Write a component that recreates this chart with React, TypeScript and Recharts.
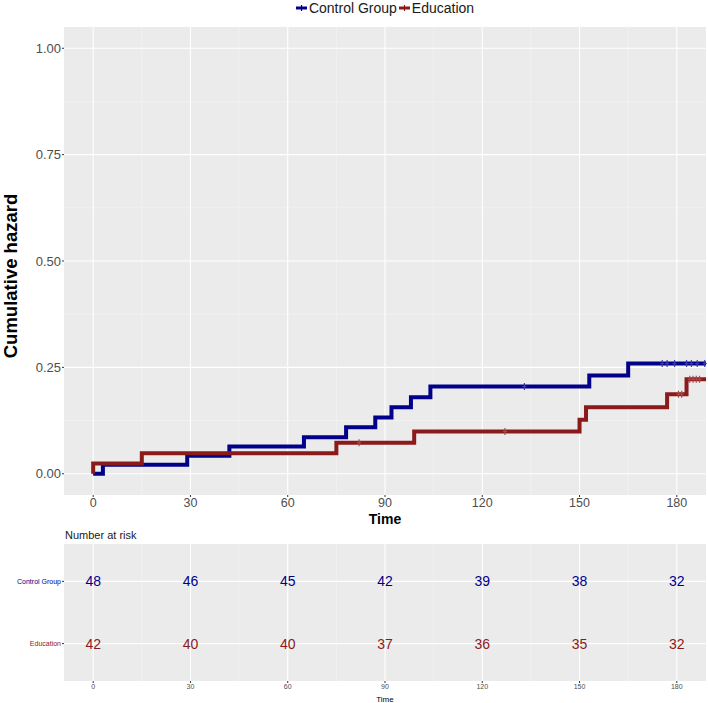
import React from 'react';
import { ComposedChart, Line, Scatter, XAxis, YAxis, CartesianGrid, Label } from 'recharts';

// groups
const groups = ['Control Group', 'Education'];
const groupColors = ['#00008B', '#8B1A1A'];

// cumulative hazard steps (time, value)
const controlTimes = [0, 3, 29, 42, 65, 78, 87, 92, 98, 104, 153, 165, 189];
const controlHazard = [0, 0.021, 0.042, 0.064, 0.086, 0.109, 0.132, 0.156, 0.18, 0.205, 0.231, 0.259, 0.259];
const educationTimes = [0, 0, 15, 75, 99, 150, 152, 177, 183, 189];
const educationHazard = [0, 0.024, 0.048, 0.073, 0.099, 0.127, 0.156, 0.187, 0.222, 0.222];

// censored times
const controlCensor = [133, 175.5, 177, 179.3, 183, 184.5, 186.3, 188.6];
const educationCensor = [82, 127, 180.5, 181.5, 184, 185, 186, 187];

// number at risk table
const riskTimes = [0, 30, 60, 90, 120, 150, 180];
const controlRisk = [48, 46, 45, 42, 39, 38, 32];
const educationRisk = [42, 40, 40, 37, 36, 35, 32];

// ticks
const timeTicks = [0, 30, 60, 90, 120, 150, 180];
const timeMinor = [15, 45, 75, 105, 135, 165];
const hazardTicks = [0, 0.25, 0.5, 0.75, 1];
const hazardMinor = [0.125, 0.375, 0.625, 0.875];

const FONT = '"Liberation Sans", Arial, Helvetica, sans-serif';

const toSteps = (times: number[], vals: number[]) => times.map((t, i) => ({ t, h: vals[i] }));
const levelAt = (times: number[], vals: number[], t: number) => {
  let v = vals[0];
  times.forEach((tt, i) => { if (tt <= t) v = vals[i]; });
  return v;
};

const controlData = toSteps(controlTimes, controlHazard);
const educationData = toSteps(educationTimes, educationHazard);
const controlMarks = controlCensor.map(t => ({ t, h: levelAt(controlTimes, controlHazard, t) }));
const educationMarks = educationCensor.map(t => ({ t, h: levelAt(educationTimes, educationHazard, t) }));

const controlRows = riskTimes.map((t, i) => ({ t, row: 2, n: controlRisk[i] }));
const educationRows = riskTimes.map((t, i) => ({ t, row: 1, n: educationRisk[i] }));

const censorShape = (color: string) => (props: any) => {
  const { cx, cy } = props;
  return (
    <g>
      <line x1={cx} x2={cx} y1={cy - 3.5} y2={cy + 3.5} stroke={color} strokeWidth={1.2} />
      <line x1={cx - 2} x2={cx + 2} y1={cy} y2={cy} stroke={color} strokeWidth={1.2} />
    </g>
  );
};

const riskText = (color: string) => (props: any) => {
  const { cx, cy, payload } = props;
  return (
    <text x={cx} y={cy} textAnchor="middle" dominantBaseline="central" fontSize={14} fill={color} fontFamily={FONT}>
      {payload.n}
    </text>
  );
};

const RowTick = (props: any) => {
  const { x, y, payload } = props;
  const idx = payload.value === 2 ? 0 : 1;
  return (
    <text x={x} y={y} textAnchor="end" dominantBaseline="central" fontSize={7} fill={groupColors[idx]} fontFamily={FONT}>
      {groups[idx]}
    </text>
  );
};

const LegendKey = ({ color }: { color: string }) => (
  <svg width={11} height={10} style={{ display: 'block' }}>
    <line x1={0} x2={11} y1={5} y2={5} stroke={color} strokeWidth={3} />
    <line x1={5.5} x2={5.5} y1={2} y2={8} stroke={color} strokeWidth={1.2} />
  </svg>
);

export default function App() {
  return (
    <div style={{ position: 'absolute', left: 0, top: 0, width: 708, height: 703, background: '#fff', fontFamily: FONT }}>
      {/* legend */}
      <div style={{ position: 'absolute', left: 64, top: 0, width: 642, height: 15, display: 'flex', justifyContent: 'center', alignItems: 'center', fontSize: 14, color: '#1a1a1a' }}>
        <LegendKey color={groupColors[0]} />
        <span style={{ marginLeft: 2, marginRight: 2 }}>{groups[0]}</span>
        <LegendKey color={groupColors[1]} />
        <span style={{ marginLeft: 2 }}>{groups[1]}</span>
      </div>

      <div style={{ position: 'absolute', left: 0, top: 0 }}>
        <ComposedChart width={708} height={530} margin={{ top: 27, right: 2, left: 0, bottom: 0 }}>
          <CartesianGrid fill="#EBEBEB" fillOpacity={1} stroke="#F5F5F5" strokeWidth={0.6}
            horizontalValues={hazardMinor} verticalValues={timeMinor} />
          <CartesianGrid stroke="#FFFFFF" strokeWidth={1.1}
            horizontalValues={hazardTicks} verticalValues={timeTicks} />
          <XAxis type="number" dataKey="t" domain={[-9, 189]} ticks={timeTicks} height={35}
            axisLine={false} tickSize={2} tickMargin={1} tickLine={{ stroke: '#333' }}
            tick={{ fill: '#4d4d4d', fontSize: 12.5, fontFamily: FONT }}>
            <Label value="Time" position="insideBottom" offset={6} fill="#000" fontWeight="bold" fontSize={14} fontFamily={FONT} />
          </XAxis>
          <YAxis type="number" domain={[-0.05, 1.05]} ticks={hazardTicks} width={64}
            tickFormatter={(v: number) => v.toFixed(2)}
            axisLine={false} tickSize={2} tickMargin={1} tickLine={{ stroke: '#333' }}
            tick={{ fill: '#4d4d4d', fontSize: 13, fontFamily: FONT }}>
            <Label content={(p: any) => {
              const vb = p.viewBox;
              const cy = vb.y + vb.height / 2 + 15;
              return (
                <text x={10} y={cy} transform={`rotate(-90 10 ${cy})`} textAnchor="middle" dominantBaseline="central"
                  fontWeight="bold" fontSize={18.5} fill="#000" fontFamily={FONT}>Cumulative hazard</text>
              );
            }} />
          </YAxis>
          <Line data={controlData} dataKey="h" type="stepAfter" stroke={groupColors[0]} strokeWidth={4}
            dot={false} activeDot={false} isAnimationActive={false} />
          <Line data={educationData} dataKey="h" type="stepAfter" stroke={groupColors[1]} strokeWidth={4}
            dot={false} activeDot={false} isAnimationActive={false} />
          <Scatter data={controlMarks} dataKey="h" shape={censorShape('#3a3aa8')} isAnimationActive={false} />
          <Scatter data={educationMarks} dataKey="h" shape={censorShape('#a84a4a')} isAnimationActive={false} />
        </ComposedChart>
      </div>

      <div style={{ position: 'absolute', left: 65, top: 528, fontSize: 11, lineHeight: '14px', color: '#1a1a1a' }}>
        Number at risk
      </div>

      <div style={{ position: 'absolute', left: 0, top: 520 }}>
        <ComposedChart width={708} height={183} margin={{ top: 24, right: 2, left: 0, bottom: 0 }}>
          <CartesianGrid fill="#EBEBEB" fillOpacity={1} stroke="#F5F5F5" strokeWidth={0.6}
            horizontal={false} verticalValues={timeMinor} />
          <CartesianGrid stroke="#FFFFFF" strokeWidth={1.1}
            horizontalValues={[1, 2]} verticalValues={timeTicks} />
          <XAxis type="number" dataKey="t" domain={[-9, 189]} ticks={timeTicks} height={22}
            axisLine={false} tickSize={2} tickMargin={1} tickLine={{ stroke: '#333' }}
            tick={{ fill: '#4d4d4d', fontSize: 7, fontFamily: FONT }}>
            <Label value="Time" position="insideBottom" offset={1} fill="#000" fontSize={8} fontFamily={FONT} />
          </XAxis>
          <YAxis type="number" dataKey="row" domain={[0.4, 2.6]} ticks={[1, 2]} width={64}
            axisLine={false} tickSize={2} tickMargin={1} tickLine={{ stroke: '#333' }} tick={<RowTick />} />
          <Scatter data={controlRows} dataKey="row" shape={riskText(groupColors[0])} isAnimationActive={false} />
          <Scatter data={educationRows} dataKey="row" shape={riskText(groupColors[1])} isAnimationActive={false} />
        </ComposedChart>
      </div>
    </div>
  );
}
